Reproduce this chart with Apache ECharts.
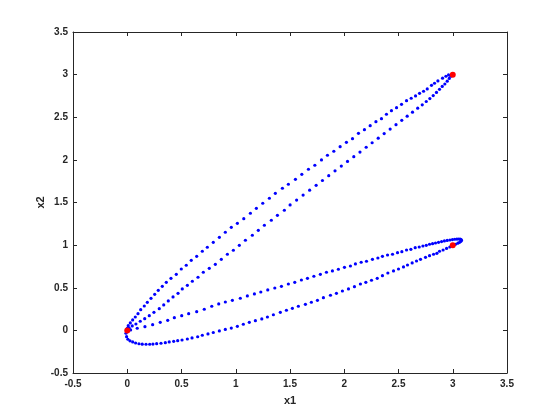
<!DOCTYPE html>
<html>
<head>
<meta charset="utf-8">
<script src="https://cdn.jsdelivr.net/npm/echarts@6/dist/echarts.min.js"></script>
<style>
  html, body { margin: 0; padding: 0; background: #fff; }
  #chart { width: 560px; height: 420px; }
</style>
</head>
<body>
<div id="chart"></div>
<script>
// axis ticks
const xTicks = [-0.5, 3.5, 0.5]   // min, max, step
const yTicks = [-0.5, 3.5, 0.5]

// upper loop, upper branch (origin -> (3,3))
const upperTop = [
  [0.000, 0.025], [0.009, 0.055], [0.028, 0.087], [0.050, 0.122], [0.074, 0.157], [0.099, 0.196],
  [0.124, 0.243], [0.157, 0.286], [0.185, 0.329], [0.219, 0.376], [0.253, 0.423], [0.286, 0.470],
  [0.323, 0.517], [0.360, 0.564], [0.403, 0.611], [0.452, 0.658], [0.498, 0.720], [0.544, 0.764],
  [0.590, 0.822], [0.640, 0.869], [0.692, 0.928], [0.738, 0.975], [0.793, 1.033], [0.849, 1.092],
  [0.904, 1.151], [0.959, 1.209], [1.015, 1.256], [1.074, 1.310], [1.135, 1.374], [1.190, 1.432],
  [1.249, 1.491], [1.310, 1.550], [1.365, 1.608], [1.430, 1.667], [1.485, 1.714], [1.550, 1.772],
  [1.609, 1.831], [1.670, 1.890], [1.729, 1.937], [1.790, 1.999], [1.845, 2.054], [1.904, 2.101],
  [1.962, 2.155], [2.020, 2.206], [2.076, 2.249], [2.131, 2.312], [2.186, 2.354], [2.239, 2.401],
  [2.292, 2.448], [2.343, 2.483], [2.389, 2.535], [2.435, 2.577], [2.482, 2.612], [2.528, 2.652],
  [2.574, 2.694], [2.617, 2.723], [2.657, 2.750], [2.694, 2.781], [2.731, 2.805], [2.765, 2.832],
  [2.804, 2.875], [2.832, 2.899], [2.863, 2.926], [2.906, 2.958], [2.937, 2.981], [2.961, 2.996]
]

// upper loop, lower branch
const upperBottom = [
  [0.018, 0.028], [0.046, 0.052], [0.080, 0.075], [0.120, 0.107], [0.161, 0.137], [0.203, 0.172],
  [0.246, 0.212], [0.295, 0.255], [0.336, 0.298], [0.378, 0.345], [0.422, 0.392], [0.468, 0.435],
  [0.507, 0.486], [0.554, 0.529], [0.600, 0.576], [0.652, 0.623], [0.701, 0.682], [0.756, 0.728],
  [0.812, 0.775], [0.867, 0.834], [0.923, 0.893], [0.978, 0.940], [1.033, 0.998], [1.089, 1.057],
  [1.153, 1.116], [1.208, 1.174], [1.264, 1.233], [1.328, 1.292], [1.384, 1.350], [1.448, 1.409],
  [1.501, 1.471], [1.561, 1.529], [1.621, 1.587], [1.681, 1.645], [1.741, 1.702], [1.799, 1.758],
  [1.857, 1.815], [1.915, 1.871], [1.973, 1.927], [2.030, 1.982], [2.088, 2.037], [2.145, 2.092],
  [2.202, 2.148], [2.257, 2.201], [2.313, 2.254], [2.368, 2.308], [2.423, 2.361], [2.477, 2.413],
  [2.530, 2.464], [2.580, 2.513], [2.629, 2.560], [2.677, 2.606], [2.719, 2.646], [2.756, 2.685],
  [2.789, 2.719], [2.820, 2.754], [2.850, 2.791], [2.878, 2.828], [2.903, 2.861], [2.927, 2.890],
  [2.949, 2.923], [2.968, 2.955], [2.983, 2.982]
]

// lower loop, upper branch (origin -> tip near (3.08,1.07))
const lowerTop = [
  [0.003, 0.008], [0.031, 0.005], [0.092, 0.025], [0.163, 0.043], [0.234, 0.067], [0.304, 0.095],
  [0.373, 0.118], [0.434, 0.149], [0.502, 0.172], [0.566, 0.196], [0.640, 0.219], [0.710, 0.248],
  [0.779, 0.283], [0.843, 0.310], [0.904, 0.333], [0.969, 0.353], [1.042, 0.377], [1.107, 0.404],
  [1.172, 0.427], [1.231, 0.450], [1.295, 0.474], [1.360, 0.497], [1.421, 0.517], [1.485, 0.544],
  [1.544, 0.564], [1.605, 0.591], [1.661, 0.611], [1.720, 0.635], [1.780, 0.658], [1.836, 0.682],
  [1.891, 0.697], [1.946, 0.717], [2.002, 0.740], [2.057, 0.755], [2.103, 0.779], [2.156, 0.799],
  [2.205, 0.811], [2.260, 0.834], [2.310, 0.849], [2.352, 0.869], [2.399, 0.884], [2.445, 0.893],
  [2.491, 0.911], [2.531, 0.923], [2.574, 0.943], [2.614, 0.951], [2.654, 0.970], [2.691, 0.978],
  [2.725, 0.990], [2.756, 0.998], [2.786, 1.010], [2.814, 1.017], [2.841, 1.025], [2.869, 1.033],
  [2.897, 1.042], [2.923, 1.049], [2.949, 1.055], [2.974, 1.060], [2.997, 1.065], [3.018, 1.069],
  [3.038, 1.071], [3.054, 1.072], [3.068, 1.071], [3.077, 1.065], [3.080, 1.056], [3.075, 1.044],
  [3.063, 1.033]
]

// lower loop, lower branch (tip -> under the origin)
const lowerBottom = [
  [3.047, 1.023], [3.025, 1.009], [3.001, 0.995], [2.973, 0.978], [2.943, 0.961], [2.911, 0.943],
  [2.878, 0.928], [2.854, 0.904], [2.823, 0.893], [2.786, 0.876], [2.749, 0.857], [2.703, 0.834],
  [2.666, 0.814], [2.626, 0.791], [2.583, 0.767], [2.546, 0.744], [2.500, 0.720], [2.454, 0.697],
  [2.402, 0.673], [2.352, 0.642], [2.304, 0.611], [2.251, 0.588], [2.199, 0.564], [2.149, 0.544],
  [2.094, 0.513], [2.039, 0.486], [1.983, 0.462], [1.928, 0.435], [1.873, 0.412], [1.808, 0.384],
  [1.753, 0.353], [1.697, 0.330], [1.642, 0.306], [1.577, 0.283], [1.522, 0.259], [1.467, 0.236],
  [1.411, 0.212], [1.347, 0.183], [1.292, 0.157], [1.240, 0.134], [1.181, 0.114], [1.125, 0.095],
  [1.070, 0.072], [1.015, 0.048], [0.959, 0.027], [0.904, 0.011], [0.849, -0.007], [0.793, -0.025],
  [0.744, -0.042], [0.692, -0.057], [0.649, -0.075], [0.597, -0.089], [0.554, -0.101], [0.505, -0.113],
  [0.465, -0.121], [0.428, -0.128], [0.387, -0.136], [0.351, -0.144], [0.311, -0.151], [0.271, -0.156],
  [0.237, -0.161], [0.207, -0.163], [0.173, -0.163], [0.138, -0.162], [0.108, -0.157], [0.077, -0.148],
  [0.050, -0.136], [0.025, -0.122], [0.006, -0.104], [-0.006, -0.074], [-0.012, -0.034]
]

// waypoints (red)
const waypoints = [[0, 0], [3, 3], [3, 1]]

const axisColor = '#262626'
const font = 'Helvetica, "Liberation Sans", Arial, sans-serif'

const chart = echarts.init(document.getElementById('chart'))

// base axis style, shared by the box axes
function boxAxis(range, extra) {
  return Object.assign({
    type: 'value',
    min: range[0],
    max: range[1],
    interval: range[2],
    axisLine: { show: true, onZero: false, lineStyle: { color: axisColor, width: 1 } },
    axisTick: { show: true, inside: true, length: 4, lineStyle: { color: axisColor } },
    splitLine: { show: false },
    axisLabel: { show: false }
  }, extra)
}

const labelStyle = {
  show: true,
  color: axisColor,
  fontFamily: font,
  fontSize: 10,
  fontWeight: 'bold'
}
const nameStyle = { color: axisColor, fontFamily: font, fontSize: 11, fontWeight: 'bold' }

// blue dot style
const dot = { color: '#0000ff', opacity: 1 }

const option = {
  animation: false,
  backgroundColor: '#fff',
  grid: { left: 73, right: 53, top: 32, bottom: 47, containLabel: false },
  xAxis: [
    boxAxis(xTicks, {
      position: 'bottom',
      axisLabel: Object.assign({ margin: 6 }, labelStyle),
      name: 'x1',
      nameLocation: 'middle',
      nameGap: 22,
      nameMoveOverlap: false,
      nameTextStyle: nameStyle
    }),
    boxAxis(xTicks, { position: 'top' })
  ],
  yAxis: [
    boxAxis(yTicks, {
      position: 'left',
      axisLabel: Object.assign({ margin: 5 }, labelStyle),
      name: 'x2',
      nameLocation: 'middle',
      nameGap: 27,
      nameMoveOverlap: false,
      nameTextStyle: nameStyle
    }),
    boxAxis(yTicks, { position: 'right' })
  ],
  series: [
    { type: 'scatter', data: upperTop, symbolSize: 3.2, itemStyle: dot },
    { type: 'scatter', data: upperBottom, symbolSize: 3.2, itemStyle: dot },
    { type: 'scatter', data: lowerTop, symbolSize: 3.2, itemStyle: dot },
    { type: 'scatter', data: lowerBottom, symbolSize: 3.2, itemStyle: dot },
    { type: 'scatter', data: waypoints, symbolSize: 6, itemStyle: { color: '#ff0000', opacity: 1 }, z: 5 }
  ]
}

chart.setOption(option)
</script>
</body>
</html>
